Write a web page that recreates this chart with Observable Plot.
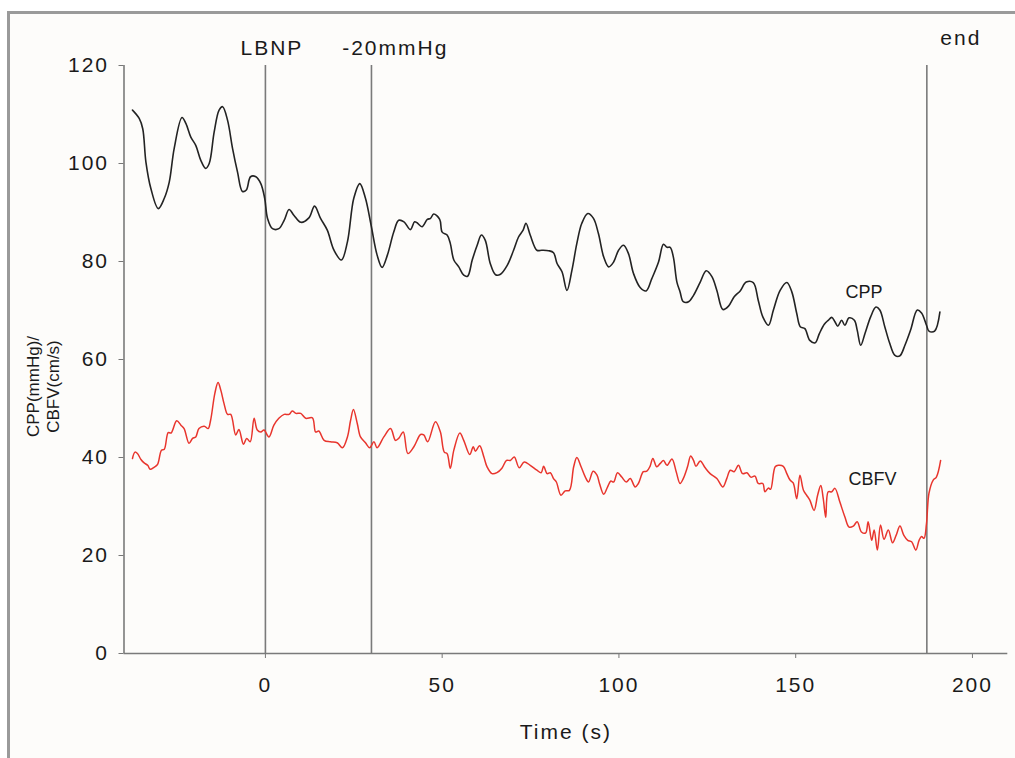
<!DOCTYPE html>
<html><head><meta charset="utf-8">
<script src="https://cdn.jsdelivr.net/npm/d3@7"></script>
<script src="https://cdn.jsdelivr.net/npm/@observablehq/plot@0.6"></script>
<style>
body{margin:0;background:#fff;}
#wrap{position:relative;width:1015px;height:758px;overflow:hidden;}
#frame{position:absolute;left:7px;top:11px;width:1020px;height:760px;border-left:3px solid #9a9a9a;border-top:3px solid #9a9a9a;background:#fdfcfa;}
#chart{position:absolute;left:0;top:0;}
#chart svg{background:transparent;}
#chart svg [aria-label$="tick"]{stroke:#777;}
</style></head><body>
<div id="wrap"><div id="frame"></div><div id="chart"></div></div>
<script>
// Time (s)
const cppT = [-37.6,-35.7,-34.7,-33.8,-32.4,-30.3,-28.6,-27.2,-25.8,-23.6,
-22.5,-21.1,-19.7,-18.3,-16.9,-15.9,-14.5,-13.1,-12.1,-10.7,
-9.3,-7.9,-6.5,-5.4,-4.2,-2.7,-1.3,-0.2,0.6,2.0,
3.8,5.3,6.7,8.1,10.0,12.3,13.9,15.6,17.5,19.4,
21.5,23.2,25.0,26.7,28.3,29.9,31.6,33.0,34.5,36.3,
37.7,39.2,41.0,42.2,42.9,44.3,45.8,46.7,47.6,49.3,
50.0,51.4,52.3,53.3,54.7,56.1,57.2,58.5,59.9,61.1,
62.2,63.6,65.1,66.5,68.4,70.2,71.6,72.9,73.7,74.9,
76.8,78.2,80.1,81.5,82.5,83.9,85.3,86.7,88.1,89.5,
91.2,92.8,94.2,95.7,97.1,98.5,99.9,101.3,102.7,104.1,
106.0,107.7,109.3,111.2,112.6,113.6,114.5,115.4,116.4,117.3,
118.2,119.7,121.1,123.0,124.7,126.3,127.7,129.4,131.0,132.6,
134.3,136.0,138.0,139.4,140.7,142.3,143.7,145.6,147.5,148.9,
150.3,151.3,152.6,154.0,155.5,156.7,158.1,159.2,160.2,161.1,
161.9,163.0,163.9,165.1,166.6,167.4,168.4,169.6,171.2,172.7,
173.8,175.2,176.6,178.0,179.4,180.9,182.5,184.4,185.6,187.0,
187.7,189.3,190.8];
// CPP (mmHg)
const cppV = [110.9,109.2,107.1,100.3,94.9,90.8,92.9,96.2,103.1,109.4,
108.2,105.4,103.7,100.7,99.0,100.0,106.4,110.9,111.6,108.8,
103.1,98.3,94.3,94.6,97.3,97.3,95.9,92.9,88.8,86.7,
86.7,88.4,90.6,89.4,88.0,88.9,91.3,88.8,86.4,82.3,
80.3,84.0,92.9,95.9,92.9,87.4,81.3,78.8,81.3,86.0,
88.4,88.1,86.5,88.1,87.9,87.1,88.6,88.8,89.7,88.6,
86.0,85.4,83.7,80.3,78.9,77.2,77.0,80.3,83.3,85.4,
84.3,79.6,77.3,77.4,79.2,82.3,85.0,86.4,87.8,85.4,
82.3,82.3,82.2,81.8,79.6,77.9,74.1,78.2,83.7,87.8,
89.8,88.8,85.7,80.9,78.9,79.9,82.3,83.3,81.6,77.6,
74.7,74.0,76.5,79.9,83.5,82.9,82.9,80.9,75.8,73.8,
71.8,71.8,73.1,75.8,78.1,76.9,74.1,70.2,70.9,72.8,
74.0,75.8,75.7,72.1,68.7,67.0,70.1,74.1,75.7,73.8,
69.4,66.7,66.3,63.9,63.4,65.3,67.2,68.0,68.6,67.7,
66.8,68.0,67.0,68.5,68.0,66.0,62.9,65.3,68.7,70.7,
70.1,66.7,63.3,60.9,60.7,62.9,66.0,70.1,69.5,67.0,
65.8,65.8,69.7];
// Time (s)
const cbfvT = [-37.6,-36.9,-36.2,-35.2,-34.3,-33.3,-32.6,-31.5,-30.5,-29.4,
-28.6,-27.5,-26.7,-25.1,-23.9,-23.0,-21.6,-20.6,-19.7,-18.8,
-17.3,-16.2,-15.5,-14.3,-13.4,-12.6,-11.7,-10.7,-9.8,-8.4,
-7.5,-6.2,-5.3,-4.3,-3.2,-2.3,-1.3,-0.4,1.0,2.4,
3.8,5.3,6.7,7.6,8.6,10.0,11.4,13.3,14.2,15.1,
16.6,18.4,20.3,21.8,23.2,24.1,24.9,26.0,26.9,28.3,
29.5,30.7,31.6,33.5,35.4,36.8,37.7,39.0,40.3,42.0,
43.9,44.8,45.9,48.1,49.5,50.6,51.4,52.3,53.3,55.0,
56.1,57.8,58.8,59.4,60.6,61.8,62.7,64.1,65.5,66.9,
68.2,69.3,70.4,71.8,73.2,74.9,76.8,78.0,78.7,79.7,
80.6,81.5,82.3,83.6,84.8,86.0,87.2,88.1,89.3,90.5,
91.4,92.7,93.8,94.5,95.7,96.8,97.7,98.5,99.6,100.8,
102.1,103.2,104.6,105.5,106.9,107.9,108.8,109.6,110.7,111.7,
112.6,113.6,115.0,116.2,117.3,118.2,119.4,120.3,121.1,121.8,
123.0,124.4,125.8,127.7,129.4,130.5,131.5,132.6,133.8,135.0,
136.2,137.3,138.5,139.4,140.7,141.3,142.3,142.9,144.2,145.1,
146.5,147.5,148.4,149.3,150.3,151.2,152.2,153.1,154.0,155.2,
156.2,157.1,157.8,158.5,159.2,160.2,161.1,162.5,163.9,165.1,
166.3,167.4,168.6,169.8,170.5,171.5,172.2,173.1,174.0,175.0,
176.2,177.4,178.4,179.5,180.6,181.7,182.8,184.0,184.9,185.6,
186.3,187.0,187.7,188.9,189.8,191.0];
// CBFV (cm/s)
const cbfvV = [39.8,41.1,40.8,39.6,38.9,38.4,37.6,38.0,38.6,41.5,
41.7,45.1,45.0,47.5,46.6,45.9,42.9,43.9,44.2,45.9,
46.4,45.9,47.6,53.1,55.3,53.7,51.0,48.8,48.8,44.6,
45.7,42.7,43.9,43.2,48.0,45.6,45.2,45.6,44.2,46.6,
48.0,48.8,48.8,49.5,49.0,49.0,48.0,48.1,45.2,45.4,
43.5,43.2,43.0,42.0,44.2,47.6,49.8,46.9,44.2,43.0,
42.0,43.2,42.0,44.2,45.9,43.5,43.9,45.2,40.8,42.2,
44.7,44.6,43.2,47.3,45.2,41.1,40.8,37.8,41.5,45.0,
43.5,40.6,42.2,41.3,42.4,40.1,38.1,36.7,36.9,37.8,
39.4,39.4,40.1,37.9,39.1,38.4,37.4,36.9,38.2,36.7,
36.9,35.7,35.0,32.3,33.2,33.3,38.1,40.0,38.1,36.0,
35.0,37.2,36.4,34.7,32.5,34.0,35.2,35.0,36.9,36.0,
35.0,35.7,34.0,34.7,37.1,37.2,38.2,39.8,38.1,38.8,
39.4,38.4,39.7,37.1,34.7,35.7,38.1,40.3,39.4,38.2,
39.3,37.9,36.7,35.7,34.0,35.7,37.4,37.1,38.4,36.7,
36.9,36.0,36.2,34.7,34.7,33.0,33.8,33.5,38.1,38.4,
38.2,36.7,35.4,34.8,31.6,36.4,33.3,32.3,31.3,29.2,
32.3,34.3,31.6,27.8,33.0,33.0,33.7,30.9,27.9,25.8,
26.0,26.9,24.8,24.6,26.9,23.1,25.2,21.1,26.2,23.3,
25.2,22.6,24.1,26.0,24.1,23.1,22.8,21.1,23.1,23.9,
23.5,26.5,32.7,35.4,36.0,39.4];

const eventT = [0, 30, 187.1];
const eventLabels = ["LBNP", "-20mmHg", "end"];
const xTicks = [0, 50, 100, 150, 200];
const yTicks = [0, 20, 40, 60, 80, 100, 120];
const seriesNames = ["CPP", "CBFV"];
const xLabel = "Time (s)";
const yLabel = "CPP(mmHg)/\nCBFV(cm/s)";

const cpp = cppT.map((t, i) => ({t, v: cppV[i]}));
const cbfv = cbfvT.map((t, i) => ({t, v: cbfvV[i]}));
const events = eventT.map((t, i) => ({t, label: eventLabels[i]}));

const labelOffsets = [{dx: 6.5, dy: -17}, {dx: 23.8, dy: -17}, {dx: 34, dy: -27}];
const font = "'Liberation Sans', Arial, Helvetica, sans-serif";

const chart = Plot.plot({
  width: 1015, height: 758,
  marginLeft: 123.5, marginRight: 7.7, marginTop: 65, marginBottom: 105,
  style: {background: "transparent", fontFamily: font, fontSize: "21px", color: "#1a1a1a", overflow: "visible"},
  x: {domain: [-40, 210], ticks: xTicks, tickSize: 5, tickPadding: 19, label: null},
  y: {domain: [0, 120], ticks: yTicks, tickSize: 5, tickPadding: 10, label: null},
  marks: [
    Plot.ruleX(events, {x: "t", y1: 0, y2: 120, stroke: "#7a7a7a", strokeWidth: 1.6}),
    Plot.ruleX([-40], {stroke: "#7a7a7a", strokeWidth: 1.6}),
    Plot.ruleY([0], {stroke: "#7a7a7a", strokeWidth: 1.6}),
    Plot.line(cpp, {x: "t", y: "v", stroke: "#232323", strokeWidth: 1.6, curve: "catmull-rom"}),
    Plot.line(cbfv, {x: "t", y: "v", stroke: "#e8352d", strokeWidth: 1.5, curve: "catmull-rom"}),
    ...events.map((e, i) => Plot.text([e], {x: "t", text: "label", frameAnchor: "top", dx: labelOffsets[i].dx, dy: labelOffsets[i].dy, fontSize: 21, fill: "#1a1a1a", lineAnchor: "middle"})),
    Plot.text([seriesNames[0]], {x: 169.3, y: 73.7, text: d => d, fontSize: 18, fill: "#1a1a1a"}),
    Plot.text([seriesNames[1]], {x: 171.7, y: 35.6, text: d => d, fontSize: 18, fill: "#1a1a1a"}),
    Plot.text([xLabel], {frameAnchor: "bottom", text: d => d, dy: 79, fontSize: 21, fill: "#1a1a1a", lineAnchor: "middle"}),
    Plot.text([yLabel], {frameAnchor: "left", textAnchor: "middle", text: d => d, rotate: -90, dx: -81.5, dy: 27, fontSize: 17, lineHeight: 1.18, fill: "#1a1a1a", lineAnchor: "middle"})
  ]
});
document.getElementById("chart").appendChild(chart);
d3.select(chart).selectAll("text").each(function() {
  const s = this.textContent;
  if (s === "CPP" || s === "CBFV" || s.startsWith("CPP(")) this.style.letterSpacing = "0px";
  else this.style.letterSpacing = "2px";
});
</script>
</body></html>
